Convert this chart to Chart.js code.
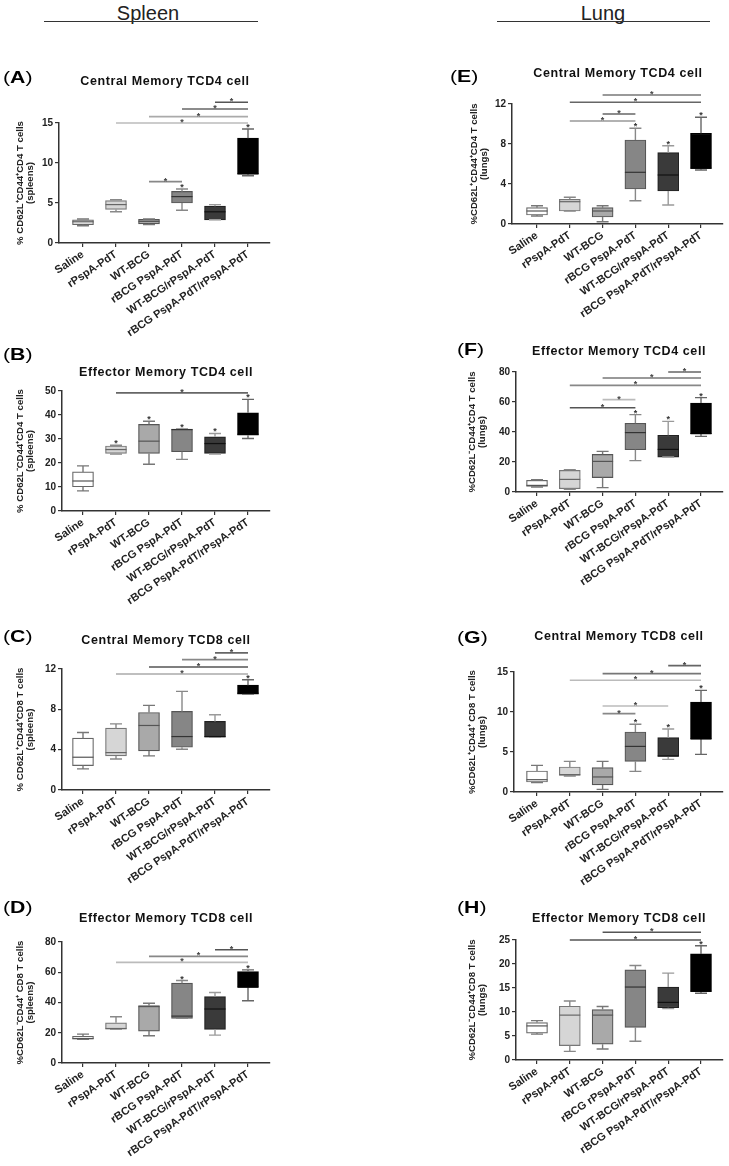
<!DOCTYPE html>
<html><head><meta charset="utf-8">
<script src="https://cdn.jsdelivr.net/npm/chart.js@4.4.1/dist/chart.umd.min.js"></script>
<style>
html,body{margin:0;padding:0;background:#fff;}
#page{position:relative;width:729px;height:1166px;overflow:hidden;font-family:"Liberation Sans",Arial,Helvetica,sans-serif;color:#111;}
canvas{position:absolute;}
.hdr{position:absolute;width:200px;font-size:20px;line-height:20px;text-align:center;color:#222;}
.hline{position:absolute;height:0;border-top:1.3px solid #333;}
.plabel{position:absolute;font-size:17px;line-height:17px;color:#000;white-space:nowrap;transform-origin:0 50%;transform:scaleX(1.25);z-index:5;}
.plabel b{font-weight:bold;}
.ptitle{position:absolute;font-weight:bold;font-size:12.5px;line-height:12px;letter-spacing:0.6px;white-space:nowrap;transform:translate(-50%,-50%);color:#111;z-index:5;}
</style></head>
<body><div id="page">
<div class="hdr" style="left:48px;top:3px;">Spleen</div>
<div class="hline" style="left:44px;top:21px;width:214px;"></div>
<div class="hdr" style="left:503px;top:3px;">Lung</div>
<div class="hline" style="left:497px;top:21px;width:213px;"></div>
</div>
<script>
// ---------- data ----------
const categories  = ["Saline","rPspA-PdT","WT-BCG","rBCG PspA-PdT","WT-BCG/rPspA-PdT","rBCG PspA-PdT/rPspA-PdT"];
const categoriesH = ["Saline","rPspA-PdT","WT-BCG","rBCG rPspA-PdT","WT-BCG/rPspA-PdT","rBCG PspA-PdT/rPspA-PdT"];

// each row: [min, q1, median, q3, max]
const A_stats = [[2.15,2.3,2.65,2.9,3.0],[3.9,4.2,4.8,5.3,5.4],[2.3,2.4,2.7,2.95,3.0],[4.1,5.0,5.8,6.45,6.75],[2.9,2.9,3.9,4.6,4.8],[8.4,8.6,8.65,13.1,14.25]];
const B_stats = [[8.4,10.1,12.5,16.3,18.8],[23.7,24.0,25.6,27.1,27.4],[19.5,24.0,29.1,36.1,37.4],[21.5,24.7,33.9,34.1,34.2],[23.7,24.0,28.1,30.9,32.3],[30.2,31.6,32.0,40.9,46.5]];
const C_stats = [[2.1,2.42,3.25,5.14,5.7],[3.08,3.38,3.71,6.13,6.56],[3.38,3.88,6.4,7.69,8.39],[4.04,4.24,5.3,7.79,9.78],[5.24,5.24,5.3,6.8,7.46],[9.51,9.51,9.6,10.4,10.94]];
const D_stats = [[15.7,15.7,16.2,17.7,19.1],[22.4,22.4,22.8,26.6,30.6],[18.0,21.1,37.3,37.9,39.5],[29.5,29.5,31.0,52.8,54.5],[18.4,22.2,35.7,43.9,46.6],[41.2,50.1,50.1,60.5,61.6]];
const E_stats = [[0.8,0.9,1.3,1.63,1.83],[1.3,1.3,2.23,2.47,2.67],[0.23,0.7,1.3,1.63,1.83],[2.33,3.5,5.17,8.4,9.57],[1.9,3.3,4.9,7.13,7.83],[5.4,5.57,5.57,9.07,10.67]];
const F_stats = [[3.3,3.8,4.4,7.8,8.2],[1.8,2.2,8.4,14.4,14.9],[2.9,9.6,20.4,25.1,27.1],[20.9,28.2,39.6,45.8,51.6],[23.3,23.3,28.4,37.8,47.1],[37.1,38.9,38.9,59.3,62.9]];
const G_stats = [[1.17,1.25,1.54,2.63,3.33],[2.0,2.08,2.17,3.13,3.83],[0.33,0.88,1.88,3.04,3.83],[2.58,3.83,5.7,7.5,8.46],[4.08,4.46,4.5,6.79,7.88],[4.7,6.63,6.63,11.25,12.7]];
const H_stats = [[5.4,5.6,7.1,7.8,8.2],[1.8,3.0,9.35,11.2,12.3],[2.3,3.3,9.35,10.5,11.15],[3.9,6.8,15.2,18.8,19.7],[10.7,10.9,12.0,15.2,18.1],[13.9,14.3,14.3,22.1,23.8]];

// y-axis tick values
const A_ticks = [0,5,10,15];
const B_ticks = [0,10,20,30,40,50];
const C_ticks = [0,4,8,12];
const D_ticks = [0,20,40,60,80];
const E_ticks = [0,4,8,12];
const F_ticks = [0,20,40,60,80];
const G_ticks = [0,5,10,15];
const H_ticks = [0,5,10,15,20,25];

// significance bars: [fromGroup, toGroup, yValue]
const A_sig = [[4,5,17.6],[3,5,16.75],[2,5,15.8],[1,5,15.0],[2,3,7.67]];
const B_sig = [[1,5,49.2]];
const C_sig = [[4,5,13.6],[3,5,12.93],[2,5,12.2],[1,5,11.5]];
const D_sig = [[4,5,74.9],[2,5,70.5],[1,5,66.5]];
const E_sig = [[2,5,12.9],[1,5,12.17],[2,3,11.0],[1,3,10.3]];
const F_sig = [[4,5,80],[2,5,76],[1,5,71.1],[2,3,61.6],[1,3,56.2]];
const G_sig = [[4,5,15.8],[2,5,14.8],[1,5,13.96],[2,4,10.75],[2,3,9.8]];
const H_sig = [[2,5,26.6],[1,5,25.0]];

// groups marked with an asterisk above the whisker
const A_stars = [3,5];
const B_stars = [1,2,3,4,5];
const C_stars = [5];
const D_stars = [3,5];
const E_stars = [3,4,5];
const F_stars = [3,4,5];
const G_stars = [3,4,5];
const H_stars = [5];

// ---------- styles ----------
const FONT = '"Liberation Sans", Arial, Helvetica, sans-serif';
const boxFill     = ['#ffffff','#d6d6d6','#a9a9a9','#868686','#3a3a3a','#000000'];
const boxLine     = ['#666666','#777777','#555555','#555555','#222222','#000000'];
const whiskerLine = ['#777777','#888888','#777777','#888888','#9a9a9a','#666666'];
const medianLine  = ['#555555','#666666','#555555','#333333','#111111','#000000'];

const panels = [
 {letter:'A', title:'Central Memory TCD4 cell', stats:A_stats, ticks:A_ticks, sig:A_sig, stars:A_stars, cats:categories,
  sigColors:['#555','#666','#aaa','#bbb','#888'], yTitle:['% CD62L\u207ACD44\u207ACD4 T cells','(spleens)'],
  col:0, L:59, T:123, B:243, tx:165, ty:81, lx:3, lb:83, yx:20},
 {letter:'B', title:'Effector Memory TCD4 cell', stats:B_stats, ticks:B_ticks, sig:B_sig, stars:B_stars, cats:categories,
  sigColors:['#666'], yTitle:['% CD62L\u207BCD44\u207ACD4 T cells','(spleens)'],
  col:0, L:62, T:391, B:511, tx:166, ty:372, lx:3, lb:360, yx:20},
 {letter:'C', title:'Central Memory TCD8 cell', stats:C_stats, ticks:C_ticks, sig:C_sig, stars:C_stars, cats:categories,
  sigColors:['#666','#888','#555','#aaa'], yTitle:['% CD62L\u207ACD44\u207ACD8 T cells','(spleens)'],
  col:0, L:62, T:669, B:790, tx:166, ty:640, lx:3, lb:642, yx:20},
 {letter:'D', title:'Effector Memory TCD8 cell', stats:D_stats, ticks:D_ticks, sig:D_sig, stars:D_stars, cats:categories,
  sigColors:['#555','#888','#bbb'], yTitle:['%CD62L\u207BCD44\u207A CD8 T cells','(spleens)'],
  col:0, L:62, T:942, B:1063, tx:166, ty:918, lx:3, lb:913, yx:20},
 {letter:'E', title:'Central Memory TCD4 cell', stats:E_stats, ticks:E_ticks, sig:E_sig, stars:E_stars, cats:categories,
  sigColors:['#777','#666','#666','#999'], yTitle:['%CD62L\u207ACD44\u207ACD4 T cells','(lungs)'],
  col:1, L:512, T:104, B:224, tx:618, ty:73, lx:450, lb:82, yx:474},
 {letter:'F', title:'Effector Memory TCD4 cell', stats:F_stats, ticks:F_ticks, sig:F_sig, stars:F_stars, cats:categories,
  sigColors:['#666','#777','#888','#bbb','#555'], yTitle:['%CD62L\u207BCD44\u207ACD4 T cells','(lungs)'],
  col:1, L:516, T:372, B:492, tx:619, ty:351, lx:457, lb:355, yx:472},
 {letter:'G', title:'Central Memory TCD8 cell', stats:G_stats, ticks:G_ticks, sig:G_sig, stars:G_stars, cats:categories,
  sigColors:['#666','#777','#bbb','#bbb','#888'], yTitle:['%CD62L\u207ACD44\u207A CD8 T cells','(lungs)'],
  col:1, L:514, T:672, B:792, tx:619, ty:636, lx:457, lb:643, yx:472},
 {letter:'H', title:'Effector Memory TCD8 cell', stats:H_stats, ticks:H_ticks, sig:H_sig, stars:H_stars, cats:categoriesH,
  sigColors:['#555','#555'], yTitle:['%CD62L\u207BCD44\u207ACD8 T cells','(lungs)'],
  col:1, L:516, T:940, B:1060, tx:619, ty:918, lx:457, lb:913, yx:472}
];

const COLS = [
  {cl:0,   cw:300, R:270, firstTick:83,  step:33},
  {cl:380, cw:349, R:723, firstTick:537, step:32.8}
];

function boxExtras(p){
  return {
    id:'boxExtras'+p.letter,
    afterDatasetsDraw(chart){
      const {ctx} = chart; const xs = chart.scales.x, ys = chart.scales.y;
      ctx.save();
      const half = 10.5, cap = 6;
      p.stats.forEach((s,i)=>{
        const cx = xs.getPixelForValue(i);
        const [mn,q1,md,q3,mx] = s.map(v=>ys.getPixelForValue(v));
        ctx.strokeStyle = whiskerLine[i]; ctx.lineWidth = 1.4;
        ctx.beginPath();
        ctx.moveTo(cx,q3); ctx.lineTo(cx,mx);
        ctx.moveTo(cx-cap,mx); ctx.lineTo(cx+cap,mx);
        ctx.moveTo(cx,q1); ctx.lineTo(cx,mn);
        ctx.moveTo(cx-cap,mn); ctx.lineTo(cx+cap,mn);
        ctx.stroke();
        ctx.strokeStyle = medianLine[i]; ctx.lineWidth = 1.2;
        ctx.beginPath(); ctx.moveTo(cx-half,md); ctx.lineTo(cx+half,md); ctx.stroke();
      });
      ctx.fillStyle = '#333';
      ctx.font = 'bold 9px ' + FONT;
      ctx.textAlign = 'center'; ctx.textBaseline = 'alphabetic';
      p.stars.forEach(i=>{
        const cx = xs.getPixelForValue(i);
        const y = ys.getPixelForValue(p.stats[i][4]);
        ctx.fillText('*', cx, y + 1);
      });
      p.sig.forEach((s,k)=>{
        const x1 = xs.getPixelForValue(s[0]), x2 = xs.getPixelForValue(s[1]);
        const y = ys.getPixelForValue(s[2]);
        ctx.strokeStyle = p.sigColors[k]; ctx.lineWidth = 1.6;
        ctx.beginPath(); ctx.moveTo(x1,y); ctx.lineTo(x2,y); ctx.stroke();
        ctx.fillStyle = '#444';
        ctx.fillText('*', (x1+x2)/2, y + 2);
      });
      ctx.restore();
    }
  };
}

const page = document.getElementById('page');
const PAD_TOP = 45, XH = 130;
panels.forEach(p=>{
  const c = COLS[p.col];
  const plotH = p.B - p.T;
  const cv = document.createElement('canvas');
  const W = c.cw, H = PAD_TOP + plotH + XH;
  cv.width = W; cv.height = H;
  cv.style.left = c.cl + 'px'; cv.style.top = (p.T - PAD_TOP) + 'px';
  cv.style.width = W + 'px'; cv.style.height = H + 'px';
  page.appendChild(cv);

  const lbl = document.createElement('div');
  lbl.className = 'plabel';
  lbl.innerHTML = '(<b>' + p.letter + '</b>)';
  lbl.style.left = p.lx + 'px';
  lbl.style.top = (p.lb - 0.8465*17) + 'px';
  page.appendChild(lbl);

  const tt = document.createElement('div');
  tt.className = 'ptitle';
  tt.textContent = p.title;
  tt.style.left = p.tx + 'px'; tt.style.top = p.ty + 'px';
  page.appendChild(tt);

  const xmin = -(c.firstTick - p.L)/c.step;
  const xmax = 5 + (c.R - (c.firstTick + 5*c.step))/c.step;
  const ylh = 10.5;
  new Chart(cv, {
    type:'bar',
    data:{datasets:[{
      data: p.stats.map((s,i)=>({x:i, y:[s[1], s[3]]})),
      backgroundColor: boxFill, borderColor: boxLine, borderWidth: 1.2,
      borderSkipped: false, barThickness: 21
    }]},
    options:{
      responsive:false, animation:false, devicePixelRatio:1,
      layout:{padding:{top:PAD_TOP, left:0, right: W - (c.R - c.cl), bottom:0}},
      plugins:{legend:{display:false}, tooltip:{enabled:false}},
      scales:{
        x:{type:'linear', min:xmin, max:xmax, offset:false,
           afterFit(s){ s.height = XH; s.paddingLeft = 0; s.paddingRight = 0; },
           afterBuildTicks(s){ s.ticks = p.cats.map((_,i)=>({value:i})); },
           ticks:{autoSkip:false, minRotation:34, maxRotation:34, padding:1, color:'#222',
                  font:{family:FONT, size:11, weight:'bold'},
                  callback:(v)=>p.cats[v]},
           grid:{offset:false, drawOnChartArea:false, drawTicks:true, tickLength:4, color:'#333', lineWidth:1.2},
           border:{display:true, color:'#333', width:1.5}},
        y:{min:0, max:p.ticks[p.ticks.length-1],
           afterFit(s){ s.width = p.L - c.cl; },
           afterBuildTicks(s){ s.ticks = p.ticks.map(v=>({value:v})); },
           ticks:{padding:2, color:'#222', font:{family:FONT, size:10, weight:'bold'}},
           grid:{drawOnChartArea:false, drawTicks:true, tickLength:4, color:'#333', lineWidth:1.2},
           border:{display:true, color:'#333', width:1.5},
           title:{display:true, text:p.yTitle, color:'#222',
                  font:{family:FONT, size:9.6, weight:'bold', lineHeight: ylh/9.6},
                  padding:{top: p.yx - c.cl - ylh/2, bottom:0}}}
      }
    },
    plugins:[boxExtras(p)]
  });
});
</script>
</body></html>
